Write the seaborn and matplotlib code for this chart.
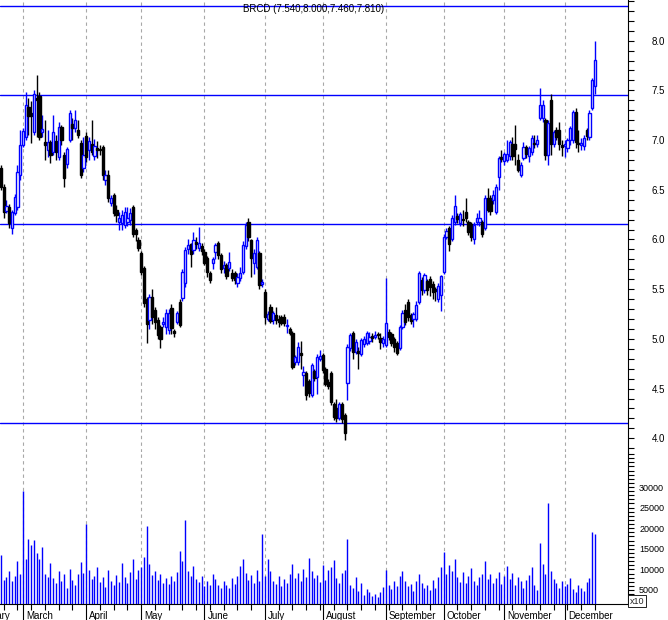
import numpy as np
import pandas as pd
import matplotlib
matplotlib.use("Agg")
import matplotlib.pyplot as plt
import matplotlib.ticker as mticker
import matplotlib.transforms as mtransforms
import seaborn as sns

# Daily candles, first bar = 17 Feb
ticker_name = "BRCD"
first_day = "2006-02-17"

opens = [
    6.72, 6.53, 6.29, 6.33, 6.12, 6.27, 6.33, 6.65, 6.95, 7.03,
    7.33, 7.27, 7.08, 7.42, 7.44, 7.08, 6.98, 6.90, 6.98, 6.88,
    6.99, 6.83, 7.13, 6.85, 6.76, 7.00, 7.16, 7.12, 7.10, 6.97,
    6.72, 7.04, 6.90, 6.96, 6.84, 6.92, 6.91, 6.93, 6.60, 6.65,
    6.37, 6.45, 6.30, 6.18, 6.17, 6.15, 6.18, 6.20, 6.33, 6.10,
    5.99, 5.86, 5.71, 5.40, 5.19, 5.42, 5.29, 5.19, 5.12, 5.15,
    5.12, 5.09, 5.31, 5.08, 5.17, 5.37, 5.41, 5.56, 5.90, 5.95,
    5.89, 5.97, 5.91, 5.93, 5.87, 5.81, 5.66, 5.76, 5.87, 5.96,
    5.84, 5.71, 5.74, 5.71, 5.66, 5.66, 5.56, 5.61, 5.67, 5.93,
    6.18, 5.99, 5.76, 5.72, 5.86, 5.55, 5.47, 5.20, 5.32, 5.19,
    5.24, 5.20, 5.22, 5.22, 5.13, 5.10, 5.06, 4.77, 4.77, 4.86,
    4.64, 4.66, 4.58, 4.44, 4.68, 4.62, 4.80, 4.84, 4.70, 4.57,
    4.66, 4.34, 4.30, 4.20, 4.34, 4.23, 4.56, 4.91, 5.06, 4.87,
    4.88, 4.85, 4.95, 4.96, 4.98, 5.03, 5.02, 5.05, 5.01, 4.96,
    4.94, 5.07, 5.05, 5.00, 4.96, 4.91, 5.12, 5.29, 5.37, 5.24,
    5.20, 5.20, 5.37, 5.59, 5.49, 5.58, 5.60, 5.55, 5.50, 5.40,
    5.44, 5.67, 6.02, 6.12, 6.00, 6.18, 6.24, 6.17, 6.21, 6.28,
    6.18, 6.16, 6.00, 6.18, 6.18, 6.18, 6.12, 6.42, 6.42, 6.40,
    6.28, 6.63, 6.83, 6.79, 6.80, 6.84, 6.96, 6.96, 6.80, 6.65,
    6.82, 6.93, 6.84, 6.88, 6.97, 6.96, 7.22, 7.22, 7.20, 6.85,
    7.40, 6.96, 7.10, 7.10, 6.95, 6.94, 6.92, 7.00, 7.00, 7.28,
    6.97, 6.95, 6.94, 7.10, 7.03, 7.32, 7.54,
]
highs = [
    6.75, 6.56, 6.40, 6.36, 6.30, 6.46, 6.75, 7.10, 7.12, 7.48,
    7.42, 7.39, 7.50, 7.65, 7.48, 7.25, 7.20, 7.10, 7.00, 7.25,
    7.05, 7.18, 7.15, 6.88, 6.93, 7.30, 7.22, 7.30, 7.20, 7.00,
    7.03, 7.08, 7.03, 7.20, 7.01, 6.99, 6.95, 6.95, 6.70, 6.70,
    6.45, 6.47, 6.35, 6.28, 6.30, 6.33, 6.33, 6.32, 6.35, 6.12,
    6.02, 5.88, 5.73, 5.42, 5.45, 5.50, 5.32, 5.22, 5.14, 5.22,
    5.30, 5.30, 5.35, 5.10, 5.28, 5.40, 5.70, 5.92, 6.00, 5.96,
    6.08, 6.02, 6.13, 5.96, 5.90, 5.83, 5.68, 5.82, 5.96, 5.98,
    5.86, 5.78, 5.76, 5.87, 5.70, 5.68, 5.66, 5.72, 5.98, 6.18,
    6.22, 6.00, 5.90, 6.02, 5.88, 5.60, 5.50, 5.28, 5.35, 5.28,
    5.32, 5.24, 5.24, 5.25, 5.20, 5.12, 5.08, 4.84, 4.97, 4.98,
    4.73, 4.68, 4.60, 4.76, 4.70, 4.85, 4.89, 4.86, 4.72, 4.60,
    4.68, 4.36, 4.40, 4.36, 4.36, 4.25, 4.95, 5.06, 5.08, 5.00,
    4.92, 5.01, 5.03, 5.08, 5.07, 5.06, 5.08, 5.07, 5.06, 5.03,
    5.61, 5.10, 5.07, 5.02, 4.98, 5.14, 5.29, 5.35, 5.40, 5.26,
    5.27, 5.38, 5.68, 5.62, 5.66, 5.60, 5.63, 5.58, 5.52, 5.56,
    5.64, 6.05, 6.12, 6.14, 6.25, 6.45, 6.27, 6.28, 6.30, 6.42,
    6.20, 6.18, 6.18, 6.27, 6.30, 6.20, 6.45, 6.52, 6.45, 6.50,
    6.56, 6.84, 6.90, 6.88, 7.00, 7.00, 7.03, 7.15, 6.86, 6.78,
    6.98, 6.95, 6.94, 7.05, 7.05, 7.05, 7.52, 7.40, 7.22, 7.20,
    7.46, 7.10, 7.13, 7.18, 7.00, 7.00, 7.02, 7.14, 7.30, 7.32,
    7.10, 7.02, 7.05, 7.12, 7.30, 7.62, 8.00,
]
lows = [
    6.50, 6.22, 6.27, 6.12, 6.05, 6.25, 6.30, 6.60, 6.93, 7.00,
    7.05, 6.97, 7.05, 7.03, 7.00, 7.03, 6.80, 6.83, 6.77, 6.85,
    6.80, 6.80, 6.95, 6.53, 6.72, 6.98, 7.00, 7.08, 7.02, 6.62,
    6.68, 6.78, 6.80, 6.85, 6.80, 6.82, 6.85, 6.60, 6.55, 6.38,
    6.34, 6.24, 6.18, 6.10, 6.10, 6.12, 6.14, 6.15, 6.02, 5.98,
    5.88, 5.64, 5.32, 4.96, 5.10, 5.15, 5.10, 5.00, 4.91, 5.12,
    5.05, 5.05, 5.05, 5.02, 5.15, 5.12, 5.38, 5.52, 5.85, 5.72,
    5.85, 5.90, 5.88, 5.84, 5.74, 5.62, 5.56, 5.70, 5.80, 5.80,
    5.66, 5.66, 5.60, 5.68, 5.58, 5.55, 5.52, 5.58, 5.65, 5.90,
    5.98, 5.62, 5.65, 5.70, 5.50, 5.52, 5.15, 5.18, 5.16, 5.15,
    5.15, 5.12, 5.14, 5.13, 5.06, 5.04, 4.70, 4.74, 4.74, 4.70,
    4.53, 4.39, 4.42, 4.42, 4.58, 4.45, 4.78, 4.66, 4.53, 4.50,
    4.33, 4.18, 4.16, 4.18, 4.15, 3.98, 4.39, 4.88, 4.80, 4.85,
    4.70, 4.83, 4.92, 4.94, 4.95, 4.97, 5.00, 5.00, 4.90, 4.92,
    4.92, 4.99, 4.93, 4.87, 4.84, 4.89, 5.10, 5.14, 5.18, 5.15,
    5.12, 5.18, 5.35, 5.44, 5.46, 5.44, 5.43, 5.40, 5.38, 5.37,
    5.28, 5.65, 6.00, 5.88, 5.98, 6.15, 6.17, 6.14, 6.14, 6.18,
    6.04, 5.98, 5.95, 6.15, 6.14, 6.02, 6.10, 6.28, 6.25, 6.36,
    6.26, 6.50, 6.78, 6.75, 6.78, 6.80, 6.80, 6.75, 6.68, 6.63,
    6.80, 6.82, 6.78, 6.85, 6.92, 6.93, 7.20, 7.18, 6.80, 6.75,
    6.85, 6.93, 7.00, 6.90, 6.84, 6.83, 6.88, 6.95, 6.97, 6.92,
    6.88, 6.90, 6.90, 7.00, 7.00, 7.30, 7.46,
]
closes = [
    6.53, 6.28, 6.34, 6.17, 6.28, 6.43, 6.68, 6.95, 7.09, 7.35,
    7.24, 7.24, 7.46, 7.40, 7.03, 7.11, 6.95, 6.98, 6.85, 7.08,
    6.88, 7.13, 7.00, 6.62, 6.91, 7.27, 7.12, 7.20, 7.05, 6.65,
    6.85, 6.83, 6.99, 6.88, 6.94, 6.90, 6.90, 6.65, 6.65, 6.42,
    6.42, 6.27, 6.25, 6.22, 6.25, 6.28, 6.22, 6.27, 6.05, 6.05,
    5.91, 5.67, 5.36, 5.15, 5.42, 5.22, 5.17, 5.04, 5.00, 5.17,
    5.26, 5.26, 5.11, 5.06, 5.26, 5.14, 5.67, 5.89, 5.94, 5.85,
    5.99, 5.95, 5.96, 5.88, 5.76, 5.67, 5.59, 5.80, 5.94, 5.84,
    5.70, 5.74, 5.63, 5.77, 5.61, 5.59, 5.62, 5.66, 5.94, 6.15,
    6.02, 5.81, 5.86, 5.99, 5.54, 5.57, 5.22, 5.25, 5.18, 5.26,
    5.19, 5.17, 5.16, 5.16, 5.14, 5.06, 4.72, 4.82, 4.92, 4.84,
    4.67, 4.44, 4.46, 4.74, 4.61, 4.82, 4.83, 4.69, 4.55, 4.53,
    4.36, 4.21, 4.20, 4.34, 4.19, 4.05, 4.92, 5.04, 4.87, 4.97,
    4.86, 4.99, 5.00, 5.06, 5.02, 5.01, 5.04, 5.04, 4.97, 5.00,
    5.16, 5.02, 4.96, 4.92, 4.86, 5.12, 5.26, 5.17, 5.22, 5.18,
    5.25, 5.34, 5.66, 5.49, 5.64, 5.49, 5.52, 5.47, 5.48, 5.53,
    5.63, 6.02, 6.09, 5.95, 6.22, 6.34, 6.21, 6.26, 6.20, 6.22,
    6.08, 6.02, 6.15, 6.22, 6.22, 6.05, 6.42, 6.30, 6.29, 6.45,
    6.53, 6.82, 6.81, 6.86, 6.86, 6.98, 6.84, 6.91, 6.70, 6.75,
    6.93, 6.86, 6.92, 7.02, 6.96, 7.00, 7.35, 7.35, 6.85, 7.17,
    6.96, 7.08, 7.03, 6.96, 6.93, 6.96, 7.00, 7.12, 7.28, 6.98,
    6.96, 6.97, 7.02, 7.04, 7.27, 7.60, 7.81,
]
volumes = [
    13500, 7500, 8200, 9600, 7200, 8500, 12000, 9000, 29000, 12500,
    17500, 16000, 17200, 14000, 12500, 15500, 9000, 8200, 11500, 7800,
    6800, 9500, 7200, 8800, 5600, 10200, 7400, 6300, 8900, 11800,
    9200, 21000, 9800, 7600, 8400, 10500, 6900, 8200, 5800, 9900,
    7300, 6200, 8600, 7000, 11500, 8100, 6800, 9400, 12500, 7600,
    9800, 10500, 13000, 20500, 11200, 8700, 9500, 7400, 8800, 6600,
    7900, 6400, 8500, 7200, 9300, 14500, 12000, 22000, 9600, 8300,
    10800, 7600, 6900, 8500, 5900, 7200, 6100, 8900, 7700, 6300,
    5600, 7100, 6200, 5400, 7800, 6500, 8300, 10800, 12500, 9200,
    7400, 8600, 6800, 9900, 7200, 18500, 8400, 12500, 9700, 7100,
    6400, 8300, 5900, 7600, 6700, 8900, 11200, 8000, 9200, 7300,
    10100, 8200, 12800, 9600, 7800, 8600, 6900, 11000, 7500, 9800,
    10500, 12300, 7900, 6800, 9100, 9800, 17500, 6200, 5600, 8100,
    4800, 6600, 3900, 5200, 4400, 3600, 4100, 3200, 4600, 5800,
    9800, 6100, 5300, 7200, 6000, 8400, 9600, 7100, 5900, 6500,
    4700, 7300, 8800, 6800, 5400, 6200, 4900, 7400, 5600, 8200,
    10600, 14200, 8900, 11000, 9700, 12600, 8100, 7000, 9300, 6700,
    8500, 10400, 7300, 6300, 8100, 9000, 12100, 7700, 8800, 6600,
    7900, 9400, 6400, 8300, 10900, 7700, 9100, 6300, 8200, 7200,
    5600, 7400, 8600, 10700, 6200, 5100, 16500, 11200, 8900, 26000,
    9500, 7600, 6800, 5400, 7300, 5900, 6400, 7800, 5200, 4600,
    6100, 5500, 4800, 6900, 7900, 19000, 18500,
]

# horizontal support / resistance lines drawn on the chart
level_lines = [8.346, 7.45, 6.153, 4.157]

BLUE = "#0000ff"

sns.set_theme(style="white")
plt.rcParams["font.family"] = ["Liberation Sans", "DejaVu Sans"]

dates = pd.bdate_range(first_day, periods=len(closes))
df = pd.DataFrame({"date": dates, "open": opens, "high": highs,
                   "low": lows, "close": closes, "volume": volumes})
df["pos"] = np.arange(len(df))
df["up"] = df["close"] >= df["open"]

# month starts (first trading day of each month) + the February one before the data
month_start = df.loc[df["date"].dt.month != df["date"].dt.month.shift(), ["pos", "date"]]
month_start = month_start.iloc[1:]
feb_pos = -len(pd.bdate_range("2006-02-01", "2006-02-16"))
month_pos = [feb_pos] + month_start["pos"].tolist()
month_names = ["February"] + month_start["date"].dt.month_name().tolist()
mondays = df.loc[df["date"].dt.dayofweek == 0, "pos"].tolist()

W, H = 668, 620
fig = plt.figure(figsize=(W / 100, H / 100), dpi=100)
ax = fig.add_axes([0, 1 - 452 / H, 628 / W, 452 / H])
axv = fig.add_axes([0, 16 / H, 628 / W, 152 / H])

xlim = (-0.36, 228.0)

# --- price panel ---
for m in month_pos:
    ax.axvline(m, color="#a8a8a8", lw=0.8, ls=(0, (3, 3)), zorder=0)
for lvl in level_lines:
    ax.axhline(lvl, color=BLUE, lw=1.0, zorder=1)

edge = np.where(df["up"], BLUE, "black")
face = np.where(df["up"], "white", "black")
ax.vlines(df["pos"], df["low"], df["high"], colors=edge, lw=1.0, zorder=2)
ax.bar(df["pos"], (df["close"] - df["open"]).abs(),
       bottom=df[["open", "close"]].min(axis=1), width=0.9,
       color=face, edgecolor=edge, linewidth=1.0, zorder=3)

ax.set_xlim(*xlim)
ax.set_ylim(3.862, 8.409)
ax.yaxis.tick_right()
ax.yaxis.set_major_locator(mticker.FixedLocator(np.arange(4.0, 8.01, 0.5)))
ax.yaxis.set_major_formatter(mticker.FormatStrFormatter("%.1f"))
ax.yaxis.set_minor_locator(mticker.MultipleLocator(0.1))
ax.tick_params(axis="y", which="both", direction="out", length=4, width=0.8,
               colors="black", labelsize=7, pad=13, right=True, left=False)
ax.tick_params(axis="x", which="both", bottom=False, labelbottom=False)
for s in ["top", "left", "bottom"]:
    ax.spines[s].set_visible(False)
ax.spines["right"].set_color("black")
ax.spines["right"].set_linewidth(0.8)

# --- volume panel ---
for m in month_pos:
    axv.axvline(m, color="#a8a8a8", lw=0.8, ls=(0, (3, 3)), zorder=0)
axv.vlines(df["pos"], 0, df["volume"], colors=BLUE, lw=1.0, zorder=2)
axv.set_xlim(*xlim)
axv.set_ylim(1600, 38500)
axv.yaxis.tick_right()
axv.yaxis.set_major_locator(mticker.FixedLocator(np.arange(5000, 30001, 5000)))
axv.yaxis.set_major_formatter(mticker.FormatStrFormatter("%d"))
axv.yaxis.set_minor_locator(mticker.MultipleLocator(1000))
axv.tick_params(axis="y", which="both", direction="out", length=4, width=0.8,
                colors="black", labelsize=6.5, pad=4, right=True, left=False)
axv.xaxis.set_major_locator(mticker.FixedLocator(month_pos))
axv.xaxis.set_minor_locator(mticker.FixedLocator(mondays))
axv.xaxis.set_major_formatter(mticker.NullFormatter())
axv.tick_params(axis="x", which="major", direction="out", length=12, width=0.8,
                colors="black", bottom=True)
axv.tick_params(axis="x", which="minor", direction="out", length=4, width=0.8,
                colors="black", bottom=True)
for s in ["top", "left"]:
    axv.spines[s].set_visible(False)
for s in ["right", "bottom"]:
    axv.spines[s].set_color("black")
    axv.spines[s].set_linewidth(0.8)

trans = mtransforms.blended_transform_factory(axv.transData, axv.transAxes)
for m, name in zip(month_pos, month_names):
    axv.text(m + 1.1, -0.045, name, transform=trans, ha="left", va="top",
             fontsize=7, color="black", clip_on=False)

fig.text(637 / W, 1 - 601 / H, "x10", fontsize=6.5, ha="center", va="center",
         bbox=dict(boxstyle="square,pad=0.2", fc="white", ec="black", lw=0.6))

title = "{} ({:.3f},{:.3f},{:.3f},{:.3f})".format(
    ticker_name, opens[-1], highs[-1], lows[-1], closes[-1])
fig.text(314 / W, 1 - 9 / H, title, ha="center", va="center", fontsize=7,
         color="black")

fig.savefig("out.png", dpi=100)
